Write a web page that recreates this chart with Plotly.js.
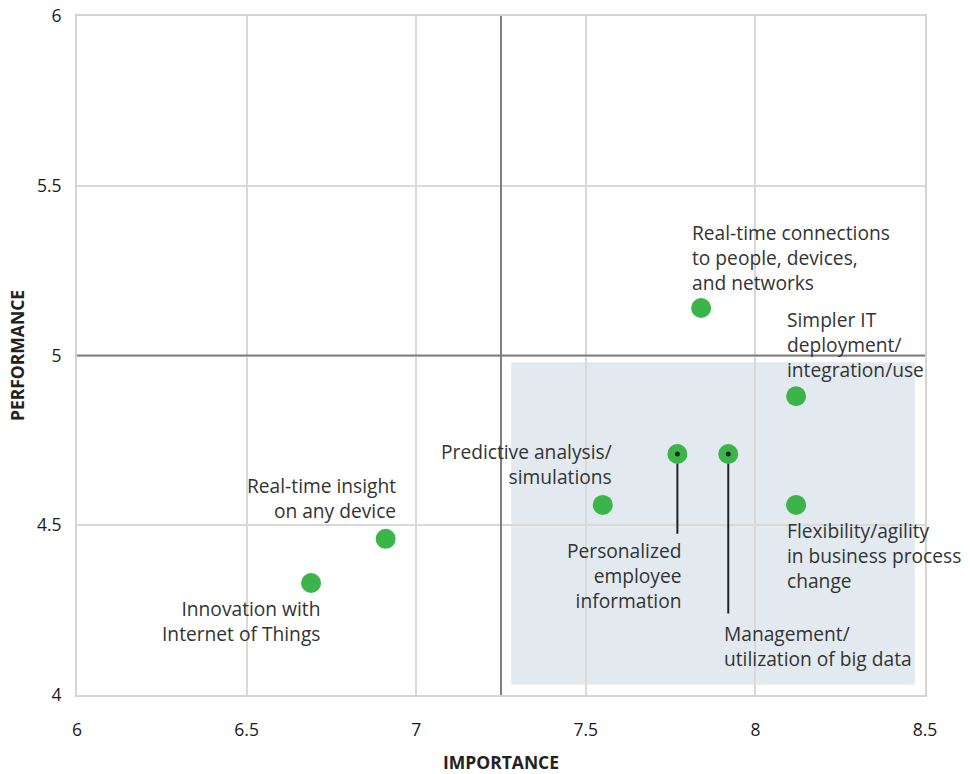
<!DOCTYPE html>
<html>
<head>
<meta charset="utf-8">
<script src="https://cdn.plot.ly/plotly-3.0.1.min.js"></script>
<style>html,body{margin:0;padding:0;background:#fff;}#chart{width:970px;height:774px;}</style>
</head>
<body>
<div id="chart"></div>
<script>
// ---- data ----
const labels = [
  "Innovation with<br>Internet of Things",
  "Real-time insight<br>on any device",
  "Predictive analysis/<br>simulations",
  "Personalized<br>employee<br>information",
  "Management/<br>utilization of big data",
  "Real-time connections<br>to people, devices,<br>and networks",
  "Simpler IT<br>deployment/<br>integration/use",
  "Flexibility/agility<br>in business process<br>change"
];
const importance  = [6.69, 6.91, 7.55, 7.77, 7.92, 7.84, 8.12, 8.12];
const performance = [4.33, 4.46, 4.56, 4.71, 4.71, 5.14, 4.88, 4.56];
const xTicks = [6, 6.5, 7, 7.5, 8, 8.5];
const yTicks = [4, 4.5, 5, 5.5, 6];
const importanceDivider = 7.25;
const performanceDivider = 5;
const highlightX = [7.28, 8.47];
const highlightY = [4.03, 4.98];
// leader line ends (performance value where the leader stops), null = no leader
const leaderEnd = [null, null, null, 4.475, 4.24, null, null, null];

// ---- label placement (layout only) ----
const labelPos = [
  {dx: 6.719, dy: 4.218, xa: 'right'},
  {dx: 6.943, dy: 4.580, xa: 'right'},
  {dx: 7.580, dy: 4.680, xa: 'right'},
  {dx: 7.784, dy: 4.351, xa: 'right'},
  {dx: 7.904, dy: 4.144, xa: 'left'},
  {dx: 7.810, dy: 5.290, xa: 'left'},
  {dx: 8.090, dy: 5.031, xa: 'left'},
  {dx: 8.090, dy: 4.412, xa: 'left'}
];

const textFont = {family: 'Open Sans, sans-serif', size: 19.2, color: '#333333'};

const traces = [];
importance.forEach((x, i) => {
  if (leaderEnd[i] !== null) {
    traces.push({
      x: [x, x], y: [performance[i], leaderEnd[i]],
      mode: 'lines', line: {color: '#222222', width: 2},
      hoverinfo: 'skip', showlegend: false, type: 'scatter'
    });
  }
});
traces.push({
  x: importance, y: performance, mode: 'markers', type: 'scatter',
  marker: {color: '#3BB54A', size: 20, line: {width: 0}},
  text: labels, hoverinfo: 'text', showlegend: false
});
traces.push({
  x: importance.filter((_, i) => leaderEnd[i] !== null),
  y: performance.filter((_, i) => leaderEnd[i] !== null),
  mode: 'markers', type: 'scatter',
  marker: {color: '#222222', size: 5},
  hoverinfo: 'skip', showlegend: false
});

const annotations = labels.map((t, i) => ({
  x: labelPos[i].dx, y: labelPos[i].dy, xref: 'x', yref: 'y',
  text: t, showarrow: false, xanchor: labelPos[i].xa, yanchor: 'middle',
  align: labelPos[i].xa, font: textFont, borderpad: 0
}));

const shapes = [
  {type: 'rect', xref: 'x', yref: 'y', x0: highlightX[0], x1: highlightX[1], y0: highlightY[0], y1: highlightY[1],
   fillcolor: '#E2EAEF', line: {width: 0}, layer: 'below'},
  {type: 'line', xref: 'x', yref: 'paper', x0: importanceDivider, x1: importanceDivider, y0: 0, y1: 1,
   line: {color: '#7f7f7f', width: 2}, layer: 'above'},
  {type: 'line', xref: 'paper', yref: 'y', x0: 0, x1: 1, y0: performanceDivider, y1: performanceDivider,
   line: {color: '#7f7f7f', width: 2}, layer: 'above'}
];

const tickFont = {family: 'Open Sans, sans-serif', size: 17.5, color: '#1a1a1a'};
const titleFont = {family: 'Open Sans, sans-serif', size: 17.5, color: '#222222', weight: 'bold'};

const layout = {
  width: 970, height: 774,
  margin: {l: 77, r: 45, t: 16, b: 79},
  paper_bgcolor: '#ffffff', plot_bgcolor: '#ffffff',
  xaxis: {
    range: [6, 8.5], tickvals: xTicks, ticktext: xTicks.map(String),
    showgrid: true, gridcolor: '#d9d9d9', gridwidth: 2, zeroline: false,
    showline: true, mirror: true, linecolor: '#d4d4d4', linewidth: 2,
    ticks: 'outside', ticklen: 18, tickcolor: 'rgba(0,0,0,0)', tickfont: tickFont,
    title: {text: 'IMPORTANCE', font: titleFont, standoff: 20}
  },
  yaxis: {
    range: [4, 6], tickvals: yTicks, ticktext: yTicks.map(String),
    showgrid: true, gridcolor: '#d9d9d9', gridwidth: 2, zeroline: false,
    showline: true, mirror: true, linecolor: '#d4d4d4', linewidth: 2,
    ticks: 'outside', ticklen: 10, tickcolor: 'rgba(0,0,0,0)', tickfont: tickFont,
    title: {text: 'PERFORMANCE', font: titleFont, standoff: 8}
  },
  shapes: shapes,
  annotations: annotations,
  hovermode: 'closest'
};

Plotly.newPlot('chart', traces, layout, {displayModeBar: false, responsive: false});
</script>
</body>
</html>
